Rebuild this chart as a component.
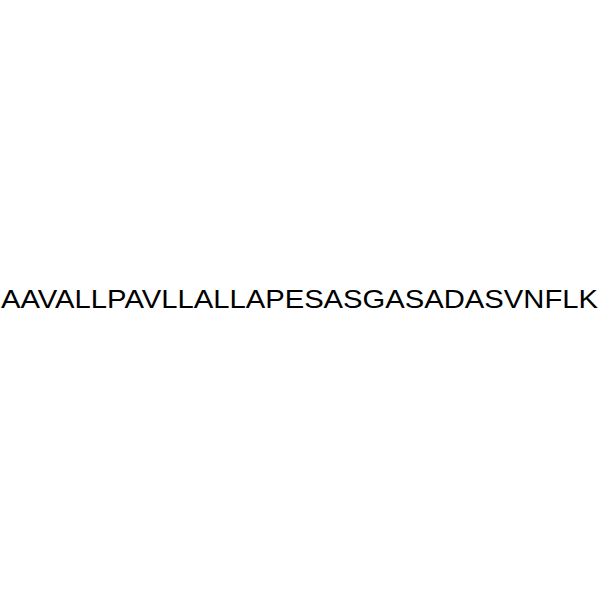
import React from "react"

const sequence = ["AAVALLPAVLLALLAPESASGASADASVNFLK"]

export default function App() {
  const width = 600
  const height = 600
  return (
    <svg
      width={width}
      height={height}
      viewBox={`0 0 ${width} ${height}`}
      style={{ position: "fixed", left: 0, top: 0, background: "#fff" }}
    >
      {sequence.map((s, i) => (
        <text
          key={i}
          x={1}
          y={308}
          textLength={597}
          lengthAdjust="spacingAndGlyphs"
          fontFamily="'Liberation Sans', Arial, sans-serif"
          fontSize={25}
          fill="#000"
        >
          {s}
        </text>
      ))}
    </svg>
  )
}
